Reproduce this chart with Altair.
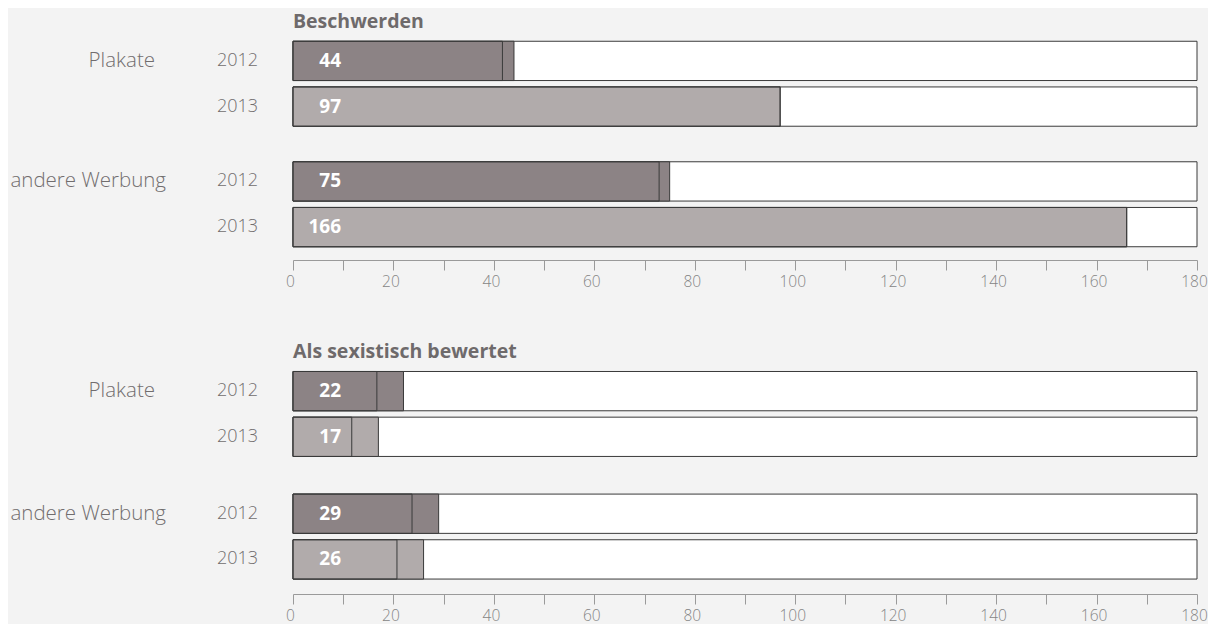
import altair as alt
import pandas as pd

# ---- data ----
groups = ["Plakate", "Plakate", "andere Werbung", "andere Werbung"]
years = ["2012", "2013", "2012", "2013"]
beschwerden = [44, 97, 75, 166]
beschwerden_marker = [41.7, 97, 72.9, 166]
sexistisch = [22, 17, 29, 26]
sexistisch_marker = [16.7, 11.7, 23.7, 20.7]
axis_max = 180
tick_values = list(range(0, 181, 10))
group_order = ["Plakate", "andere Werbung"]
year_order = ["2012", "2013"]
year_colors = ["#8c8385", "#b1abab"]

FONT = "Open Sans"
TXT = "#716d6e"


def panel(title, values, markers, height):
    df = pd.DataFrame({
        "group": groups,
        "year": years,
        "value": values,
        "marker": markers,
        "label": [str(v) for v in values],
    })
    base = alt.Chart(df)
    y = alt.Y("group:N", sort=group_order, axis=None,
              scale=alt.Scale(domain=group_order, paddingInner=0.295, paddingOuter=0.11))
    yo = alt.YOffset("year:N", sort=year_order,
                     scale=alt.Scale(domain=year_order, paddingInner=0.14, paddingOuter=0))
    xscale = alt.Scale(domain=[0, axis_max], nice=False)
    xaxis = alt.Axis(
        values=tick_values,
        labelExpr="datum.value % 20 == 0 ? datum.label : ''",
        tickSize=10, tickColor="#9a9a9a", domainColor="#9a9a9a",
        labelColor="#858585", labelFont=FONT, labelFontSize=15.5, labelFontWeight=300,
        labelPadding=4, grid=False, title=None, labelFlush=False, labelOffset=-3,
    )
    bg = base.mark_bar(fill="white", stroke="#3a3a3a", strokeWidth=1).encode(
        x=alt.X("zero:Q", scale=xscale, axis=xaxis),
        x2=alt.X2("full:Q"),
        y=y, yOffset=yo,
    ).transform_calculate(zero="0", full=str(axis_max))
    bars = base.mark_bar(stroke="#3a3a3a", strokeWidth=1).encode(
        x=alt.X("value:Q", scale=xscale),
        y=y, yOffset=yo,
        color=alt.Color("year:N", scale=alt.Scale(domain=year_order, range=year_colors), legend=None),
    )
    marks = base.mark_bar(fill="transparent", stroke="#3a3a3a", strokeWidth=1).encode(
        x=alt.X("marker:Q", scale=xscale),
        y=y, yOffset=yo,
    )
    labels = base.mark_text(align="right", baseline="middle", color="white",
                            font=FONT, fontWeight="bold", fontSize=19).encode(
        x=alt.value(48), y=y, yOffset=yo, text="label:N")
    year_txt = base.mark_text(align="right", baseline="middle", color=TXT,
                              font=FONT, fontWeight=300, fontSize=18).encode(
        x=alt.value(-35), y=y, yOffset=yo, text="year:N")
    g1 = base.transform_filter("datum.year == '2012' && datum.group == 'Plakate'").mark_text(
        align="right", baseline="middle", color=TXT, font=FONT, fontWeight=300, fontSize=20.5).encode(
        x=alt.value(-138), y=y, yOffset=yo, text="group:N")
    g2 = base.transform_filter("datum.year == '2012' && datum.group == 'andere Werbung'").mark_text(
        align="right", baseline="middle", color=TXT, font=FONT, fontWeight=300, fontSize=20.5).encode(
        x=alt.value(-127), y=y, yOffset=yo, text="group:N")
    return alt.layer(bg, bars, marks, labels, year_txt, g1, g2).properties(
        width=904, height=height,
        title=alt.TitleParams(title, anchor="start", frame="group", fontSize=19.5,
                              font=FONT, fontWeight="bold", color="#6e6a6b", offset=0, dy=4),
    )


chart = alt.vconcat(
    panel("Beschwerden", beschwerden, beschwerden_marker, 232),
    panel("Als sexistisch bewertet", sexistisch, sexistisch_marker, 236),
    spacing=51,
).properties(padding={"left": 2, "top": 3, "right": 0, "bottom": 0}).configure(
    background="#f3f3f3",
).configure_view(stroke=None)

chart.save("out.html", embed_options={"renderer": "svg", "actions": False})
